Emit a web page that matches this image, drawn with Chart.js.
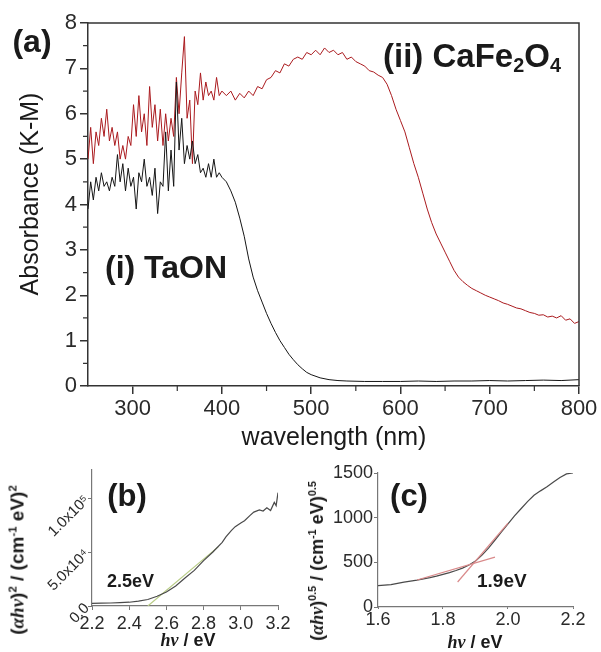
<!DOCTYPE html>
<html>
<head>
<meta charset="utf-8">
<script src="https://cdn.jsdelivr.net/npm/chart.js@4.4.1/dist/chart.umd.min.js"></script>
<style>
    body { margin: 0; background: #fff; }
    #fig { position: relative; width: 601px; height: 652px; overflow: hidden; background: #fff;
        font-family: 'Liberation Sans', Arial, sans-serif; color: #1a1a1a; }
    canvas { position: absolute; }
    .txt { position: absolute; white-space: nowrap; line-height: 1; transform: translate(-50%, -50%); }
    .left { transform: translate(0, -50%); }
    .rot { transform: translate(-50%, -50%) rotate(-90deg); }
    .b { font-weight: bold; }
    sub, sup { font-size: 0.6em; line-height: 0; }
    sub { vertical-align: -0.3em; }
    sup { vertical-align: 0.65em; }
    .sym { font-family: 'Liberation Serif', serif; font-style: italic; }
</style>
</head>
<body>
<div id="fig">
    <canvas id="chart-a" width="601" height="460" style="left:0;top:0;width:601px;height:460px"></canvas>
    <canvas id="chart-b" width="300" height="197" style="left:0;top:455px;width:300px;height:197px"></canvas>
    <canvas id="chart-c" width="301" height="197" style="left:300px;top:455px;width:301px;height:197px"></canvas>

    <div class="txt b" style="left:32px;top:41px;font-size:32px">(a)</div>
    <div class="txt b left" style="left:383px;top:55px;font-size:33px">(ii) CaFe<sub>2</sub>O<sub>4</sub></div>
    <div class="txt b left" style="left:105px;top:267px;font-size:32px">(i) TaON</div>
    <div class="txt rot" style="left:29px;top:194px;font-size:25px">Absorbance (K-M)</div>
    <div class="txt" style="left:334px;top:436px;font-size:25px">wavelength (nm)</div>

    <div class="txt b" style="left:127px;top:495px;font-size:31px">(b)</div>
    <div class="txt b left" style="left:107px;top:581px;font-size:18px">2.5eV</div>
    <div class="txt b rot" style="left:17px;top:560px;font-size:19px">(<span class="sym">&alpha;h&nu;</span>)<sup>2</sup> / (cm<sup>-1</sup> eV)<sup>2</sup></div>
    <div class="txt b" style="left:188px;top:640px;font-size:18px"><span class="sym">h&nu;</span> / eV</div>

    <div class="txt b" style="left:409px;top:495px;font-size:31px">(c)</div>
    <div class="txt b left" style="left:477px;top:580px;font-size:19px">1.9eV</div>
    <div class="txt b rot" style="left:317px;top:561px;font-size:18px">(<span class="sym">&alpha;h&nu;</span>)<sup>0.5</sup> / (cm<sup>-1</sup> eV)<sup>0.5</sup></div>
    <div class="txt b" style="left:475px;top:642px;font-size:18px"><span class="sym">h&nu;</span> / eV</div>
</div>
<script>
// * Panel (a): K-M absorbance of TaON and CaFe2O4, panels (b)/(c): Tauc plots

// (a) tick values
const wlTicks = [300, 400, 500, 600, 700, 800]
const absTicks = [0, 1, 2, 3, 4, 5, 6, 7, 8]

// (i) TaON
const taonWl = [250, 253, 256, 259, 262, 265, 268, 271, 274, 277, 280, 283, 286, 289, 292, 295, 298,
    301, 304, 307, 310, 313, 316, 319, 322, 325, 328, 331, 334, 337, 340, 343, 346, 349, 352, 355, 358,
    361, 364, 367, 370, 373, 376, 379, 382, 385, 388, 391, 394, 397, 400,
    405, 410, 415, 420, 425, 430, 435, 440, 445, 450, 455, 460, 465, 470, 475, 480, 485, 490, 495, 500,
    510, 520, 530, 540, 560, 580, 600, 620, 640, 660, 680, 700, 720, 740, 760, 780, 800]
const taonAbs = [3.9, 4.5, 4.1, 4.6, 4.3, 4.7, 4.4, 4.5, 4.3, 4.6, 4.4, 5.1, 4.5, 4.9, 4.3, 4.8, 4.4,
    4.6, 3.9, 4.7, 4.5, 5.0, 4.4, 4.6, 4.2, 4.8, 3.8, 4.5, 4.4, 5.6, 4.3, 5.2, 4.4, 6.7, 5.2, 5.9, 4.9,
    5.3, 5.0, 5.4, 4.9, 5.1, 4.7, 4.8, 4.6, 4.9, 4.6, 5.0, 4.6, 4.7, 4.6,
    4.5, 4.3, 4.05, 3.7, 3.3, 2.8, 2.4, 2.1, 1.85, 1.6, 1.38, 1.18, 1.0, 0.85, 0.7, 0.58, 0.47, 0.38, 0.3, 0.25,
    0.18, 0.14, 0.12, 0.11, 0.1, 0.1, 0.1, 0.11, 0.1, 0.11, 0.11, 0.12, 0.11, 0.12, 0.13, 0.12, 0.14]

// (ii) CaFe2O4
const cfoWl = [250, 253, 256, 259, 262, 265, 268, 271, 274, 277, 280, 283, 286, 289, 292, 295, 298,
    301, 304, 307, 310, 313, 316, 319, 322, 325, 328, 331, 334, 337, 340, 343, 346, 349, 352, 355, 358,
    361, 364, 367, 370, 373, 376, 379, 382, 385, 388, 391, 394, 397, 400,
    405, 410, 415, 420, 425, 430, 435, 440, 445, 450, 455, 460, 465, 470, 475, 480, 485, 490, 495, 500,
    505, 510, 515, 520, 525, 530, 535, 540, 545, 550, 555, 560, 565, 570, 575, 580, 585, 590, 595, 600,
    605, 610, 615, 620, 625, 630, 635, 640, 645, 650, 655, 660, 665, 670, 675, 680, 685, 690, 695, 700,
    705, 710, 715, 720, 725, 730, 735, 740, 745, 750, 755, 760, 765, 770, 775, 780, 785, 790, 795, 800]
const cfoAbs = [5.0, 5.7, 4.9, 5.6, 5.3, 5.9, 5.5, 6.1, 5.4, 5.7, 5.3, 5.6, 5.0, 5.3, 5.0, 5.5, 5.3,
    6.2, 5.5, 6.4, 5.6, 6.0, 5.3, 6.6, 5.7, 6.2, 5.4, 6.1, 5.3, 6.0, 5.4, 5.9, 5.5, 6.8, 6.0, 6.9, 7.7,
    5.9, 6.3, 4.9, 6.5, 6.2, 6.9, 6.3, 6.7, 6.4, 6.5, 6.3, 6.8, 6.4, 6.5,
    6.4, 6.5, 6.3, 6.45, 6.35, 6.5, 6.4, 6.6, 6.55, 6.75, 6.8, 6.95, 6.9, 7.1, 7.05, 7.2, 7.25, 7.2, 7.35, 7.3,
    7.4, 7.3, 7.45, 7.35, 7.4, 7.3, 7.35, 7.2, 7.25, 7.15, 7.1, 7.05, 6.95, 6.92, 6.85, 6.8, 6.65, 6.4, 6.1, 5.85,
    5.6, 5.25, 4.9, 4.6, 4.25, 3.9, 3.6, 3.35, 3.15, 2.95, 2.75, 2.55, 2.4, 2.3, 2.22, 2.15, 2.1, 2.05, 2.0, 1.96,
    1.92, 1.88, 1.83, 1.8, 1.76, 1.72, 1.7, 1.66, 1.62, 1.6, 1.56, 1.57, 1.52, 1.54, 1.5, 1.55, 1.45, 1.48, 1.38, 1.42]

// (b) Tauc plot, direct gap
const bXTicks = [2.2, 2.4, 2.6, 2.8, 3.0, 3.2]
const bXLabels = ['2.2', '2.4', '2.6', '2.8', '3.0', '3.2']
const bYTicks = [0, 50000, 100000]
const bYLabels = ['0.0', '5.0x10\u2074', '1.0x10\u2075']
const bEnergy = [2.20, 2.25, 2.30, 2.35, 2.40, 2.45, 2.50, 2.55, 2.60, 2.65, 2.70, 2.75, 2.80, 2.85, 2.90,
    2.92, 2.95, 2.97, 3.00, 3.02, 3.05, 3.07, 3.10, 3.12, 3.14, 3.16, 3.18, 3.19, 3.20]
const bValue = [2500, 2600, 2800, 3100, 3500, 4500, 6000, 9000, 13000, 18500, 26000, 33000, 42000, 50000, 59000,
    64000, 70000, 73500, 77000, 79000, 84000, 87000, 89000, 88000, 91000, 88500, 96000, 93000, 105000]
const bFitE = [2.50, 2.88]
const bFitV = [0, 55000]

// (c) Tauc plot, indirect gap
const cXTicks = [1.6, 1.8, 2.0, 2.2]
const cXLabels = ['1.6', '1.8', '2.0', '2.2']
const cYTicks = [0, 500, 1000, 1500]
const cYLabels = ['0', '500', '1000', '1500']
const cEnergy = [1.60, 1.62, 1.64, 1.66, 1.68, 1.70, 1.72, 1.74, 1.76, 1.78, 1.80, 1.82, 1.84, 1.86, 1.88,
    1.90, 1.92, 1.94, 1.96, 1.98, 2.00, 2.02, 2.04, 2.06, 2.08, 2.10, 2.12, 2.14, 2.16, 2.18, 2.20]
const cValue = [240, 245, 250, 265, 278, 290, 300, 315, 328, 345, 365, 385, 408, 435, 470,
    515, 580, 660, 750, 840, 930, 1020, 1100, 1180, 1250, 1300, 1345, 1400, 1450, 1490, 1500]
const cFit1E = [1.72, 1.96]
const cFit1V = [302, 559]
const cFit2E = [1.845, 2.0]
const cFit2V = [280, 940]

Chart.defaults.font.family = "'Liberation Sans', Arial, sans-serif"
Chart.defaults.color = '#2a2a2a'

const toPoints = (xs, ys) => xs.map((x, i) => ({ x: x, y: ys[i] }))
const line = (data, color, width) => ({
    data: data, borderColor: color, borderWidth: width,
    pointRadius: 0, tension: 0, fill: false
})

// top/right frame and minor ticks for panel (a)
const frameAndMinor = {
    id: 'frameAndMinor',
    afterDraw(chart) {
        const { ctx, chartArea: a, scales: { x, y } } = chart
        ctx.save()
        ctx.strokeStyle = '#333'
        ctx.lineWidth = 1.5
        ctx.beginPath()
        ctx.moveTo(a.left, a.top)
        ctx.lineTo(a.right, a.top)
        ctx.lineTo(a.right, a.bottom)
        ctx.stroke()
        ctx.lineWidth = 1.2
        ctx.beginPath()
        for (let i = 0; i < absTicks.length - 1; i++) {
            const py = y.getPixelForValue((absTicks[i] + absTicks[i + 1]) / 2)
            ctx.moveTo(a.left, py)
            ctx.lineTo(a.left - 5, py)
        }
        for (let i = 0; i < wlTicks.length - 1; i++) {
            const px = x.getPixelForValue((wlTicks[i] + wlTicks[i + 1]) / 2)
            ctx.moveTo(px, a.bottom)
            ctx.lineTo(px, a.bottom + 5)
        }
        ctx.stroke()
        ctx.restore()
    }
}

// (a)
new Chart(document.getElementById('chart-a'), {
    type: 'line',
    data: {
        datasets: [
            line(toPoints(taonWl, taonAbs), '#151515', 1),
            line(toPoints(cfoWl, cfoAbs), '#aa1a1e', 1)
        ]
    },
    options: {
        responsive: false,
        animation: false,
        devicePixelRatio: 1,
        layout: { padding: { top: 23, right: 22, left: 0, bottom: 0 } },
        plugins: { legend: { display: false }, tooltip: { enabled: false } },
        scales: {
            x: {
                type: 'linear', min: 250, max: 800,
                afterBuildTicks: (s) => { s.ticks = wlTicks.map((v) => ({ value: v })) },
                afterFit: (s) => { s.height = 74 },
                grid: { drawOnChartArea: false, tickLength: 8, color: '#333', lineWidth: 1.5 },
                border: { color: '#333', width: 1.5 },
                ticks: { font: { size: 22 }, padding: 2, maxRotation: 0, autoSkip: false }
            },
            y: {
                min: 0, max: 8,
                afterBuildTicks: (s) => { s.ticks = absTicks.map((v) => ({ value: v })) },
                afterFit: (s) => { s.width = 88 },
                grid: { drawOnChartArea: false, tickLength: 8, color: '#333', lineWidth: 1.5 },
                border: { color: '#333', width: 1.5 },
                ticks: { font: { size: 22 }, padding: 3 }
            }
        }
    },
    plugins: [frameAndMinor]
})

// (b)
new Chart(document.getElementById('chart-b'), {
    type: 'line',
    data: {
        datasets: [
            line(toPoints(bEnergy, bValue), '#4a4a4a', 1.2),
            line(toPoints(bFitE, bFitV), '#b8cc86', 1.2)
        ]
    },
    options: {
        responsive: false,
        animation: false,
        devicePixelRatio: 1,
        layout: { padding: { top: 15, right: 22, left: 0, bottom: 0 } },
        plugins: { legend: { display: false }, tooltip: { enabled: false } },
        scales: {
            x: {
                type: 'linear', min: 2.2, max: 3.2,
                afterBuildTicks: (s) => { s.ticks = bXTicks.map((v) => ({ value: v })) },
                afterFit: (s) => { s.height = 46 },
                grid: { drawOnChartArea: false, tickLength: 4, color: '#777' },
                border: { color: '#777', width: 1.2 },
                ticks: {
                    font: { size: 18 }, padding: 3, maxRotation: 0, autoSkip: false,
                    callback: (v) => bXLabels[bXTicks.indexOf(v)]
                }
            },
            y: {
                min: 0, max: 126000,
                afterBuildTicks: (s) => { s.ticks = bYTicks.map((v) => ({ value: v })) },
                afterFit: (s) => { s.width = 92 },
                grid: { drawOnChartArea: false, tickLength: 4, color: '#777' },
                border: { color: '#777', width: 1.2 },
                ticks: {
                    font: { size: 15 }, padding: 1, minRotation: 45, maxRotation: 45,
                    callback: (v) => bYLabels[bYTicks.indexOf(v)]
                }
            }
        }
    }
})

// (c)
new Chart(document.getElementById('chart-c'), {
    type: 'line',
    data: {
        datasets: [
            line(toPoints(cFit1E, cFit1V), '#d9898a', 1.2),
            line(toPoints(cFit2E, cFit2V), '#d9898a', 1.2),
            line(toPoints(cEnergy, cValue), '#4a4a4a', 1.2)
        ]
    },
    options: {
        responsive: false,
        animation: false,
        devicePixelRatio: 1,
        layout: { padding: { top: 18, right: 28, left: 0, bottom: 0 } },
        plugins: { legend: { display: false }, tooltip: { enabled: false } },
        scales: {
            x: {
                type: 'linear', min: 1.6, max: 2.2,
                afterBuildTicks: (s) => { s.ticks = cXTicks.map((v) => ({ value: v })) },
                afterFit: (s) => { s.height = 45 },
                grid: { drawOnChartArea: false, tickLength: 2, color: '#777' },
                border: { color: '#777', width: 1.2 },
                ticks: {
                    font: { size: 18 }, padding: 0, maxRotation: 0, autoSkip: false,
                    callback: (v) => cXLabels[cXTicks.indexOf(v)]
                }
            },
            y: {
                min: 0, max: 1500,
                afterBuildTicks: (s) => { s.ticks = cYTicks.map((v) => ({ value: v })) },
                afterFit: (s) => { s.width = 78 },
                grid: { drawOnChartArea: false, tickLength: 4, color: '#777' },
                border: { color: '#777', width: 1.2 },
                ticks: {
                    font: { size: 18 }, padding: 1,
                    callback: (v) => cYLabels[cYTicks.indexOf(v)]
                }
            }
        }
    }
})
</script>
</body>
</html>
